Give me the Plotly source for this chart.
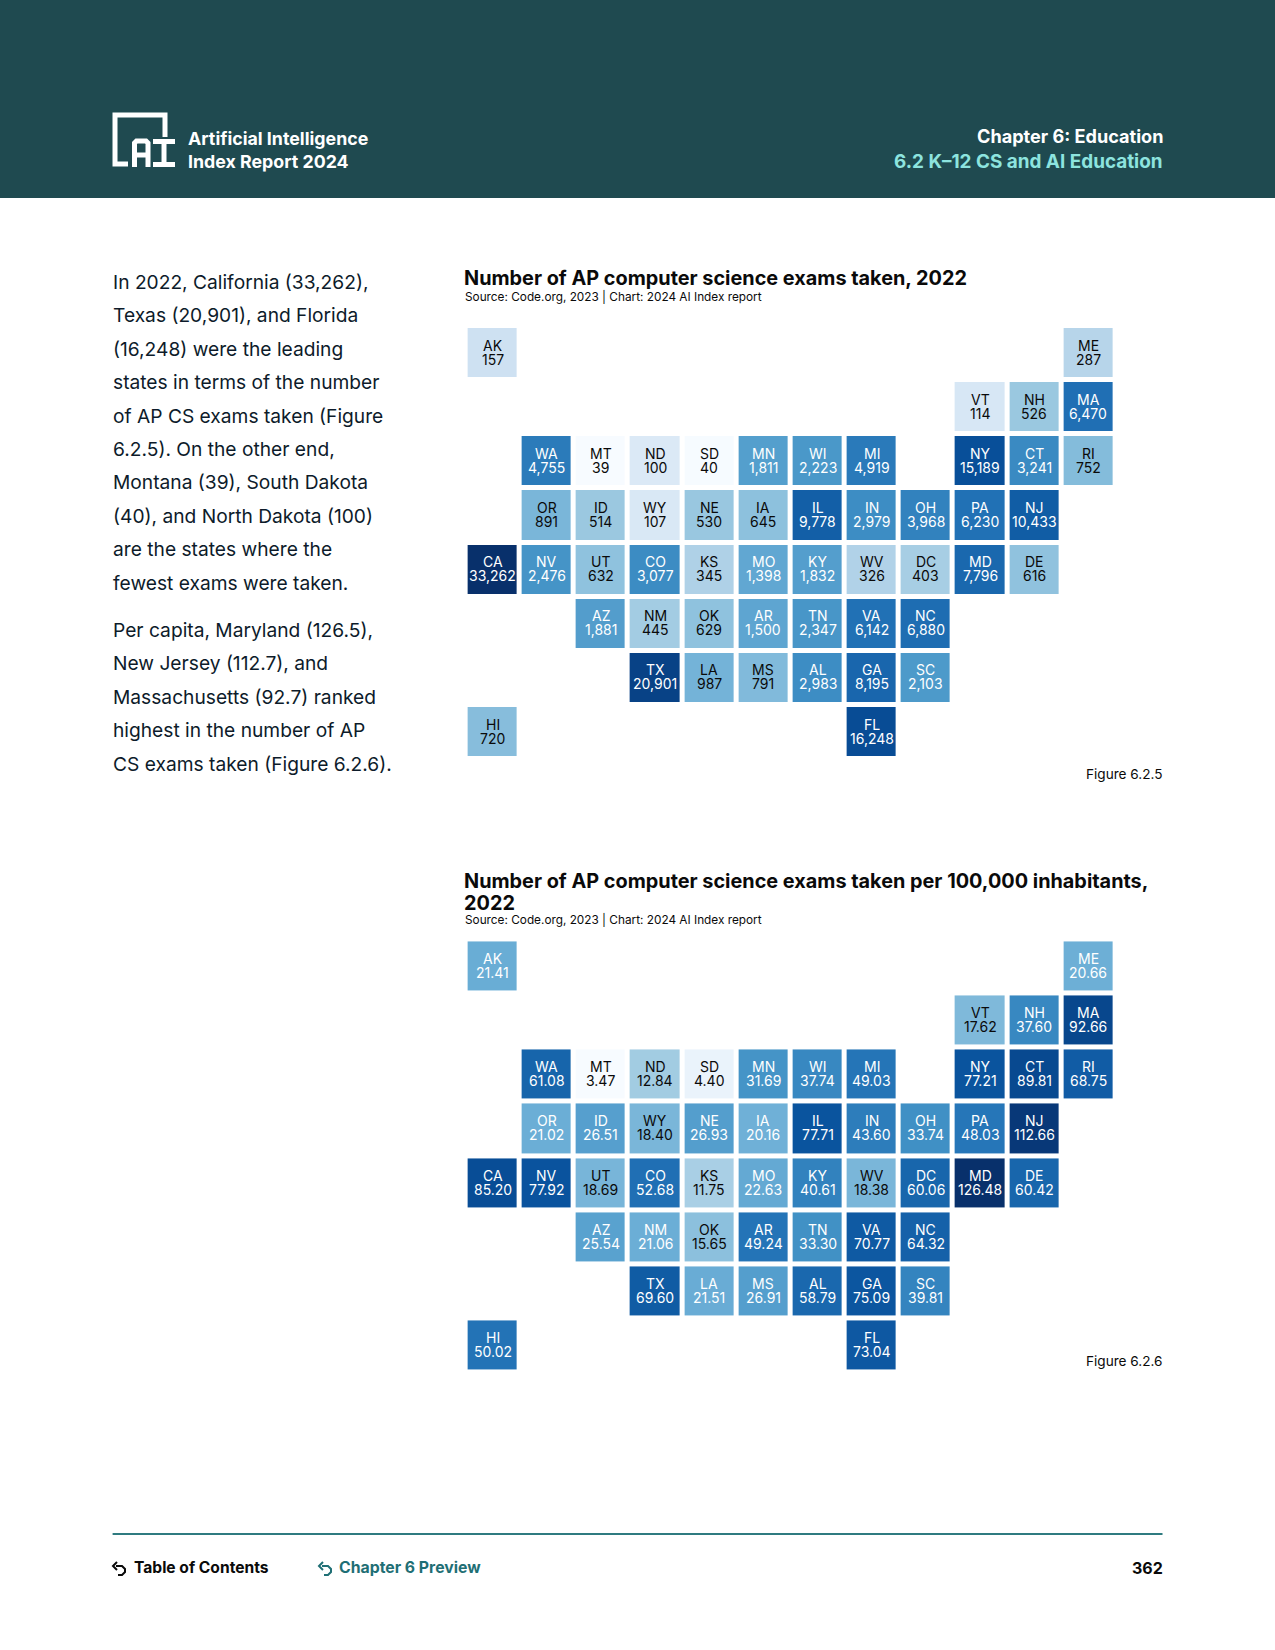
import numpy as np
import plotly.graph_objects as go
import plotly.express as px

W, H = 1275, 1650
FONT = "Inter, Roboto, sans-serif"
INK = "#0a0a0a"

states = ["AK","ME","VT","NH","MA","WA","MT","ND","SD","MN","WI","MI","NY","CT","RI",
          "OR","ID","WY","NE","IA","IL","IN","OH","PA","NJ",
          "CA","NV","UT","CO","KS","MO","KY","WV","DC","MD","DE",
          "AZ","NM","OK","AR","TN","VA","NC",
          "TX","LA","MS","AL","GA","SC","HI","FL"]
cols = [0,11,9,10,11,1,2,3,4,5,6,7,9,10,11,
        1,2,3,4,5,6,7,8,9,10,
        0,1,2,3,4,5,6,7,8,9,10,
        2,3,4,5,6,7,8,
        3,4,5,6,7,8,0,7]
rows = [0,0,1,1,1,2,2,2,2,2,2,2,2,2,2,
        3,3,3,3,3,3,3,3,3,3,
        4,4,4,4,4,4,4,4,4,4,4,
        5,5,5,5,5,5,5,
        6,6,6,6,6,6,7,7]
exams = [157,287,114,526,6470,4755,39,100,40,1811,2223,4919,15189,3241,752,
         891,514,107,530,645,9778,2979,3968,6230,10433,
         33262,2476,632,3077,345,1398,1832,326,403,7796,616,
         1881,445,629,1500,2347,6142,6880,
         20901,987,791,2983,8195,2103,720,16248]
per_capita = [21.41,20.66,17.62,37.60,92.66,61.08,3.47,12.84,4.40,31.69,37.74,49.03,77.21,89.81,68.75,
              21.02,26.51,18.40,26.93,20.16,77.71,43.60,33.74,48.03,112.66,
              85.20,77.92,18.69,52.68,11.75,22.63,40.61,18.38,60.06,126.48,60.42,
              25.54,21.06,15.65,49.24,33.30,70.77,64.32,
              69.60,21.51,26.91,58.79,75.09,39.81,50.02,73.04]

body_lines = ["In 2022, California (33,262),","Texas (20,901), and Florida","(16,248) were the leading",
              "states in terms of the number","of AP CS exams taken (Figure","6.2.5). On the other end,",
              "Montana (39), South Dakota","(40), and North Dakota (100)","are the states where the",
              "fewest exams were taken."]
body_lines2 = ["Per capita, Maryland (126.5),","New Jersey (112.7), and","Massachusetts (92.7) ranked",
               "highest in the number of AP","CS exams taken (Figure 6.2.6)."]

def X(p): return p / W
def Y(p): return 1 - p / H

def label(x, y, text, size, color=INK, bold=False, anchor="left"):
    x = x - 2 if anchor == "left" else x + 2.5
    return dict(xref="paper", yref="paper", x=X(x), y=Y(y), text=f"<b>{text}</b>" if bold else text,
                showarrow=False, xanchor=anchor, yanchor="middle",
                font=dict(family=FONT, size=size, color=color))

PITCH, LEFT = 54.15, 465.6
fig = go.Figure()
annotations = []

def add_map(values, top, axis_id, white_from, fmt):
    xa, ya = ("x", "y") if axis_id == 1 else (f"x{axis_id}", f"y{axis_id}")
    z = np.log10(values)
    fig.add_trace(go.Heatmap(x=cols, y=rows, z=z, xaxis=xa, yaxis=ya, xgap=5, ygap=5,
                             colorscale=px.colors.sequential.Blues, showscale=False,
                             zmin=z.min(), zmax=z.max(), hoverongaps=False,
                             customdata=states, hovertemplate="%{customdata}<extra></extra>"))
    suffix = "" if axis_id == 1 else str(axis_id)
    layout_axes = {
        f"xaxis{suffix}": dict(domain=[X(LEFT), X(LEFT + 12 * PITCH)], range=[-0.5, 11.5], visible=False, anchor=ya),
        f"yaxis{suffix}": dict(domain=[Y(top + 8 * PITCH), Y(top)], range=[7.5, -0.5], visible=False, anchor=xa),
    }
    fig.update_layout(**layout_axes)
    for s, c, r, v in zip(states, cols, rows, values):
        color = "#ffffff" if v >= white_from else INK
        for text, shift in ((s, 8), (fmt(v), -6)):
            annotations.append(dict(xref=xa, yref=ya, x=c, y=r, yshift=shift, text=text, showarrow=False,
                                    font=dict(family=FONT, size=14, color=color)))

add_map(np.array(exams, float), 326, 1, 1000, lambda v: f"{int(v):,}")
add_map(np.array(per_capita, float), 939.4, 2, 20, lambda v: f"{v:.2f}")

HEAD = "#1f4a50"
TEAL_LT = "#8de4df"
TEAL = "#1f6f75"
page = [
    label(187.5, 138.5, "Artificial Intelligence", 17.8, "#ffffff", True),
    label(187.5, 161.5, "Index Report 2024", 17.8, "#ffffff", True),
    label(1162.5, 136, "Chapter 6: Education", 18.1, "#ffffff", True, "right"),
    label(1162.5, 161.5, "6.2 K–12 CS and AI Education", 18.9, TEAL_LT, True, "right"),
    label(464, 278, "Number of AP computer science exams taken, 2022", 19.85, INK, True),
    label(465, 296.5, "Source: Code.org, 2023 | Chart: 2024 AI Index report", 11.8),
    label(464, 880.5, "Number of AP computer science exams taken per 100,000 inhabitants,", 19.85, INK, True),
    label(464, 902.5, "2022", 19.85, INK, True),
    label(465, 919.5, "Source: Code.org, 2023 | Chart: 2024 AI Index report", 11.8),
    label(1162.5, 774, "Figure 6.2.5", 13.6, INK, False, "right"),
    label(1162.5, 1361, "Figure 6.2.6", 13.6, INK, False, "right"),
    label(133.5, 1567.5, "Table of Contents", 15.6, INK, True),
    label(339, 1567.5, "Chapter 6 Preview", 15.8, TEAL, True),
    label(1162.5, 1567.5, "362", 16, INK, True, "right"),
]
for i, line in enumerate(body_lines):
    page.append(label(112.6, 282 + i * 33.4, line, 19.2, "#0d1b2a"))
for i, line in enumerate(body_lines2):
    page.append(label(112.6, 630 + i * 33.4, line, 19.2, "#0d1b2a"))

def P(points, close=False):
    s = " ".join(("M" if i == 0 else "L") + f"{X(a):.5f},{Y(b):.5f}" for i, (a, b) in enumerate(points))
    return s + (" Z" if close else "")

def stroke(points, color="#ffffff", width=5):
    return dict(type="path", xref="paper", yref="paper", path=P(points), layer="above",
                line=dict(color=color, width=width))

def arrow(x, y, color):
    return [stroke([(x + 4, y + 6), (x + 10, y + 6), (x + 13, y + 9), (x + 13, y + 12), (x + 10, y + 15), (x + 6, y + 15)], color, 2),
            stroke([(x + 5, y + 2), (x + 1, y + 6), (x + 5, y + 10)], color, 2)]

shapes = [
    dict(type="rect", xref="paper", yref="paper", x0=0, x1=1, y0=Y(198), y1=1, fillcolor=HEAD, line_width=0, layer="below"),
    dict(type="line", xref="paper", yref="paper", x0=X(112.6), x1=X(1162.5), y0=Y(1534), y1=Y(1534),
         line=dict(color="#2f7b80", width=2)),
    stroke([(128, 164), (115, 164), (115, 115), (165, 115), (165, 137)]),
    stroke([(134.5, 167), (134.5, 143), (136.5, 141), (146, 141), (148, 143), (148, 167)]),
    stroke([(134.5, 155), (148, 155)]),
    stroke([(153, 141.5), (175, 141.5)]),
    stroke([(153, 164.5), (175, 164.5)]),
    stroke([(164, 141), (164, 165)]),
] + arrow(112, 1560, INK) + arrow(318, 1560, TEAL)

fig.update_layout(width=W, height=H, margin=dict(l=0, r=0, t=0, b=0), showlegend=False,
                  paper_bgcolor="#ffffff", plot_bgcolor="rgba(0,0,0,0)",
                  annotations=annotations + page, shapes=shapes)
fig.write_html("out.html", config={"displayModeBar": False}, post_script="document.body.style.margin='0';")
